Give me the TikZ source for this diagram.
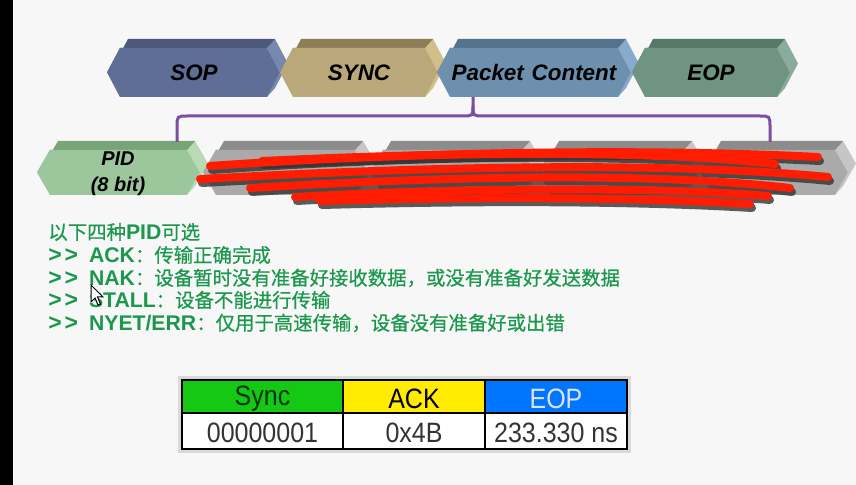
\documentclass[tikz,border=0pt]{standalone}
\usepackage{fontspec}
\setmainfont{Liberation Sans}
\newfontfamily\cjk{Noto Sans CJK SC}[FakeBold=0.6]
\definecolor{bgcol}{RGB}{247,247,247}
\definecolor{sopF}{RGB}{94,110,150}\definecolor{sopT}{RGB}{76,89,124}\definecolor{sopS}{RGB}{118,136,176}
\definecolor{synF}{RGB}{186,168,122}\definecolor{synT}{RGB}{140,126,86}\definecolor{synS}{RGB}{212,190,136}
\definecolor{pcF}{RGB}{108,144,174}\definecolor{pcT}{RGB}{84,114,140}\definecolor{pcS}{RGB}{136,170,204}
\definecolor{eopF}{RGB}{112,148,130}\definecolor{eopT}{RGB}{86,120,104}\definecolor{eopS}{RGB}{138,172,156}
\definecolor{pidF}{RGB}{156,198,156}\definecolor{pidT}{RGB}{120,164,120}\definecolor{pidS}{RGB}{186,218,182}
\definecolor{gryF}{RGB}{170,170,170}\definecolor{gryT}{RGB}{140,140,140}\definecolor{gryS}{RGB}{198,198,198}
\definecolor{txtgreen}{RGB}{28,152,78}
\definecolor{bracecol}{RGB}{122,78,163}
\definecolor{scribble}{RGB}{255,28,0}
\definecolor{hdrgreen}{RGB}{20,200,20}
\definecolor{hdryellow}{RGB}{255,236,0}
\definecolor{hdrblue}{RGB}{0,118,255}

% hexagonal prism: #1 left vertex x, #2 right vertex x, #3 top y, #4 bottom y,
% #5 front colour, #6 top colour, #7 side colour
\newcommand{\hexprism}[7]{%
  \pgfmathsetmacro{\hpYm}{(#3+#4)/2}%
  \pgfmathsetmacro{\hpA}{#1+13}%
  \pgfmathsetmacro{\hpB}{#2-13}%
  \fill[#7] (\hpB+8,#3-9) -- (#2+8,\hpYm-9) -- (\hpB+8,#4-9) -- (\hpB,#4) -- (#2,\hpYm) -- (\hpB,#3) -- cycle;
  \fill[#6] (#1,\hpYm) -- (#1+8,\hpYm-9) -- (\hpA+8,#3-9) -- (\hpB+8,#3-9) -- (\hpB,#3) -- (\hpA,#3) -- cycle;
  \fill[#5] (#1,\hpYm) -- (\hpA,#3) -- (\hpB,#3) -- (#2,\hpYm) -- (\hpB,#4) -- (\hpA,#4) -- cycle;
}
% bold list marker: two "greater than" signs (no guillemet ligature)
\newcommand{\gtgt}{{\fontsize{11.5}{11}\selectfont\bfseries >\kern1.4pt>}\hspace{5.5pt}}
% bold latin keyword at the slightly larger latin size
\newcommand{\kw}[1]{{\fontsize{10.6}{11}\selectfont\bfseries #1}}

\begin{document}
\begin{tikzpicture}[x=0.5pt,y=-0.5pt,
  lbl/.style={font=\fontsize{11.2}{13}\selectfont\bfseries\itshape, text=black, inner sep=0pt},
  line/.style={anchor=west, text=txtgreen, inner sep=0pt, font=\fontsize{9.7}{11}\selectfont},
  brace/.style={draw=bracecol, line width=1.5pt},
  redstroke/.style={draw=scribble, line width=4pt, line cap=round},
  shadowstroke/.style={draw=black!80, line width=4pt, line cap=round, opacity=0.8},
  cell/.style={font=\fontsize{12.5}{14}\selectfont, inner sep=0pt, yscale=1.12, transform shape}]

\fill[bgcol] (0,0) rectangle (856,485);
\useasboundingbox (0,0) rectangle (856,485);
\fill[black] (0,0) rectangle (13,485);

% packet fields
\hexprism{107}{280}{48}{97}{sopF}{sopT}{sopS}
\hexprism{280}{438}{48}{97}{synF}{synT}{synS}
\hexprism{437}{631}{48}{97}{pcF}{pcT}{pcS}
\hexprism{632}{790}{48}{97}{eopF}{eopT}{eopS}
\node[lbl] (sop) at (194,73) {SOP};
\node[lbl] (sync) at (359,73) {SYNC};
\node[lbl] (pc) at (534,73) {Packet\hspace{0.35em}Content};
\node[lbl] (eop) at (711,73) {EOP};

% packet content fields
\hexprism{37}{200}{150}{195}{pidF}{pidT}{pidS}
\hexprism{203}{368}{150}{195}{gryF}{gryT}{gryS}
\hexprism{370}{535}{150}{195}{gryF}{gryT}{gryS}
\hexprism{538}{697}{150}{195}{gryF}{gryT}{gryS}
\hexprism{700}{848}{150}{195}{gryF}{gryT}{gryS}
\node[lbl, align=center, font=\fontsize{10}{13}\selectfont\bfseries\itshape] (pid) at (118,174) {PID\\(8 bit)};

% brace from Packet Content to its fields
\coordinate (spk) at (473,97);
\coordinate (bl) at (177,142);
\coordinate (br) at (770,142);
\draw[brace] (bl) -- (177,127) .. controls (177,116) .. (188,116) -- (462,116) .. controls (473,116) .. (473,106) -- (spk);
\draw[brace] (br) -- (770,127) .. controls (770,116) .. (759,116) -- (484,116) .. controls (473,116) .. (473,106);

% scribbles over the grey fields
\begin{scope}[shift={(2,4)}]
  \draw[shadowstroke] (210,166) .. controls (350,156) and (600,146) .. (818,157);
  \draw[shadowstroke] (262,161) .. controls (450,152) and (650,150) .. (775,164);
  \draw[shadowstroke] (200,179) .. controls (400,168) and (650,160) .. (828,177);
  \draw[shadowstroke] (250,188) .. controls (450,176) and (650,172) .. (790,188);
  \draw[shadowstroke] (295,197) .. controls (450,188) and (650,186) .. (768,196);
  \draw[shadowstroke] (320,201) .. controls (500,196) and (650,198) .. (750,204);
\end{scope}
\draw[redstroke] (210,166) .. controls (350,156) and (600,146) .. (818,157);
\draw[redstroke] (262,161) .. controls (450,152) and (650,150) .. (775,164);
\draw[redstroke] (200,179) .. controls (400,168) and (650,160) .. (828,177);
\draw[redstroke] (250,188) .. controls (450,176) and (650,172) .. (790,188);
\draw[redstroke] (295,197) .. controls (450,188) and (650,186) .. (768,196);
\draw[redstroke] (320,201) .. controls (500,196) and (650,198) .. (750,204);

% PID descriptions
\node[line] (l1) at (48,232) {{\cjk 以下四种}\kw{PID}{\cjk 可选}};
\node[line] (l2) at (48,255) {\gtgt\kw{ACK}{\cjk ：传输正确完成}};
\node[line] (l3) at (48,278) {\gtgt\kw{NAK}{\cjk ：设备暂时没有准备好接收数据，或没有准备好发送数据}};
\node[line] (l4) at (48,300) {\gtgt\kw{STALL}{\cjk ：设备不能进行传输}};
\node[line] (l5) at (48,323) {\gtgt\kw{NYET/ERR}{\cjk ：仅用于高速传输，设备没有准备好或出错}};

% mouse pointer
\fill[white, draw=black, line width=0.5pt, shift={(91,285)}]
  (0,0) -- (0,17) -- (4,13) -- (7,20) -- (9.5,19) -- (6.5,12) -- (12,12) -- cycle;

% decoded packet table
\fill[black!15] (178,376) rectangle (631,453);
\fill[hdrgreen] (182,380) rectangle (343,413);
\fill[hdryellow] (343,380) rectangle (485,413);
\fill[hdrblue] (485,380) rectangle (627,413);
\fill[white] (182,413) rectangle (627,449);
\draw[black, line width=0.6pt] (182,380) rectangle (627,449);
\draw[black, line width=0.8pt] (182,413) -- (627,413);
\draw[black, line width=0.6pt] (343,380) -- (343,449);
\draw[black, line width=0.6pt] (485,380) -- (485,449);
\node[cell, text=black!80!green] (hsync) at (262.5,399) {Sync};
\node[cell, text=black] (hack) at (414,399) {ACK};
\node[cell, text=white!88!blue] (heop) at (556,399) {EOP};
\node[cell, text=black!80] (dsync) at (262.5,433) {00000001};
\node[cell, text=black!80] (dack) at (414,433) {0x4B};
\node[cell, text=black!80] (deop) at (556,433) {233.330 ns};
\end{tikzpicture}
\end{document}
